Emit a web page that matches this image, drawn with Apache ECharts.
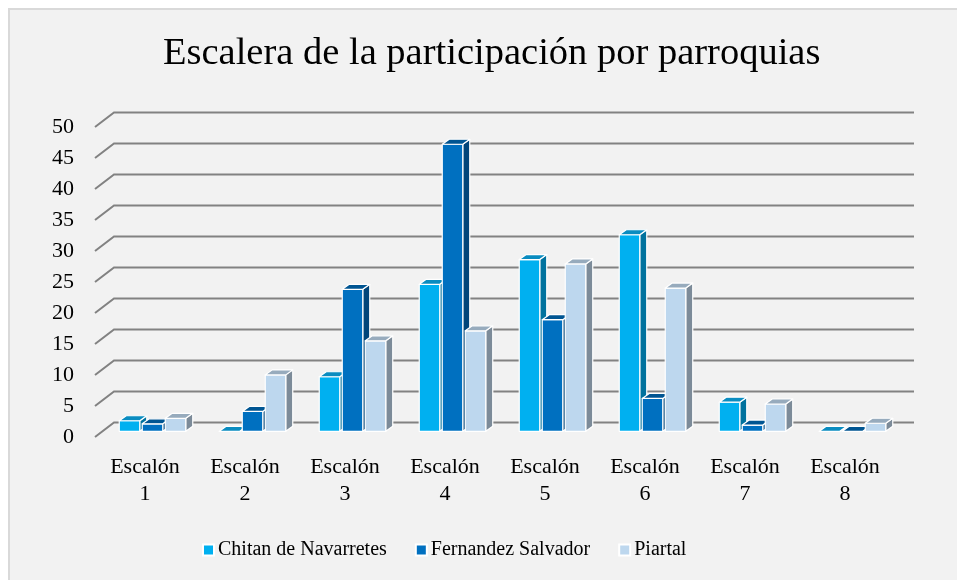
<!DOCTYPE html>
<html>
<head>
<meta charset="utf-8">
<script src="https://cdn.jsdelivr.net/npm/echarts@6/dist/echarts.min.js"></script>
<style>
html, body { margin: 0; padding: 0; background: #ffffff; }
#myChart { width: 957px; height: 580px; }
</style>
</head>
<body>
<div id="myChart"></div>
<script>
// datos
var categories = ['Escalón\n1', 'Escalón\n2', 'Escalón\n3', 'Escalón\n4', 'Escalón\n5', 'Escalón\n6', 'Escalón\n7', 'Escalón\n8'];
var seriesNames = ['Chitan de Navarretes', 'Fernandez Salvador', 'Piartal'];
var chitan = [1.7, 0, 8.8, 23.7, 27.7, 31.7, 4.7, 0];
var fernandez = [1.2, 3.2, 22.9, 46.3, 18.0, 5.3, 1.0, 0];
var piartal = [2.1, 9.1, 14.6, 16.2, 27.0, 23.1, 4.4, 1.3];
var yTicks = [0, 5, 10, 15, 20, 25, 30, 35, 40, 45, 50];

// colores: frente, arriba, lado
var faces = [
  ['#00b0f0', '#0a8cc0', '#00729e'],
  ['#0070c0', '#005592', '#00457a'],
  ['#bdd7ee', '#97abbd', '#7c8b99']
];

// profundidad del "3D"
var wallDx = 19, wallDy = -14.5;   // pared del fondo
var shiftX = 7.5, shiftY = -5.7;   // posicion de las barras
var barW = 20.5, barGap = 2.5;
var sideDx = 7, sideDy = -5;

function barItem(k) {
  return function (params, api) {
    var idx = api.value(0);
    var base = api.coord([idx, 0]);
    var top = api.coord([idx, api.value(1)]);
    var x0 = base[0] + (k - 1) * (barW + barGap) - barW / 2 + shiftX;
    var x1 = x0 + barW;
    var yb = base[1] + shiftY;
    var yt = top[1] + shiftY;
    var st = { stroke: '#ffffff', lineWidth: 1.2, lineJoin: 'round' };
    return {
      type: 'group',
      children: [
        { type: 'polygon', shape: { points: [[x1, yb], [x1 + sideDx, yb + sideDy], [x1 + sideDx, yt + sideDy], [x1, yt]] },
          style: Object.assign({ fill: faces[k][2] }, st) },
        { type: 'rect', shape: { x: x0, y: yt, width: barW, height: yb - yt },
          style: Object.assign({ fill: faces[k][0] }, st) },
        { type: 'polygon', shape: { points: [[x0, yt], [x1, yt], [x1 + sideDx, yt + sideDy], [x0 + sideDx, yt + sideDy]] },
          style: Object.assign({ fill: faces[k][1] }, st) }
      ]
    };
  };
}

function gridItem(params, api) {
  var cs = params.coordSys;
  var p = api.coord([0, api.value(0)]);
  var y = p[1];
  return {
    type: 'polyline',
    shape: { points: [[cs.x, y], [cs.x + wallDx, y + wallDy], [cs.x + cs.width + wallDx, y + wallDy]] },
    style: { stroke: '#828282', lineWidth: 2, fill: null },
    z2: 0
  };
}

function toPairs(arr) {
  var out = [];
  for (var i = 0; i < arr.length; i++) out.push([i, arr[i]]);
  return out;
}

var myChart = echarts.init(document.getElementById('myChart'));
var serif = '"Liberation Serif", "DejaVu Serif", serif';

var gridData = [];
for (var j = 0; j < yTicks.length; j++) gridData.push([yTicks[j]]);

var allSeries = [{
  type: 'custom',
  name: 'grid',
  renderItem: gridItem,
  data: gridData,
  encode: { y: 0 },
  silent: true,
  z: 1
}];
var values = [chitan, fernandez, piartal];
for (var k = 0; k < 3; k++) {
  allSeries.push({
    type: 'custom',
    name: seriesNames[k],
    renderItem: barItem(k),
    data: toPairs(values[k]),
    encode: { x: 0, y: 1 },
    itemStyle: { color: faces[k][0], borderColor: '#ffffff', borderWidth: 1 },
    z: 2 + k
  });
}

myChart.setOption({
  animation: false,
  graphic: [{
    type: 'rect',
    shape: { x: 9, y: 9, width: 960, height: 590 },
    style: { fill: '#f2f2f2', stroke: '#d9d9d9', lineWidth: 2 },
    z: -10
  }],
  title: {
    text: 'Escalera de la participación por parroquias',
    left: 158,
    top: 29,
    textStyle: { fontFamily: serif, fontSize: 38.5, fontWeight: 'normal', color: '#000000' }
  },
  legend: {
    data: seriesNames,
    bottom: 15,
    left: 197,
    icon: 'rect',
    itemWidth: 11,
    itemHeight: 11,
    itemGap: 28,
    textStyle: { fontFamily: serif, fontSize: 20, color: '#000000', padding: [0, 0, 0, -1] }
  },
  grid: { left: 95, right: 62, top: 127, bottom: 143 },
  xAxis: {
    type: 'category',
    data: categories,
    axisLine: { show: false },
    axisTick: { show: false },
    splitLine: { show: false },
    axisLabel: { fontFamily: serif, fontSize: 22, color: '#000000', lineHeight: 27, margin: 17, interval: 0 }
  },
  yAxis: {
    type: 'value',
    min: 0,
    max: 50,
    interval: 5,
    axisLine: { show: false },
    axisTick: { show: false },
    splitLine: { show: false },
    axisLabel: { fontFamily: serif, fontSize: 22, color: '#000000', margin: 21, verticalAlign: 'middle' }
  },
  series: allSeries
});
</script>
</body>
</html>
